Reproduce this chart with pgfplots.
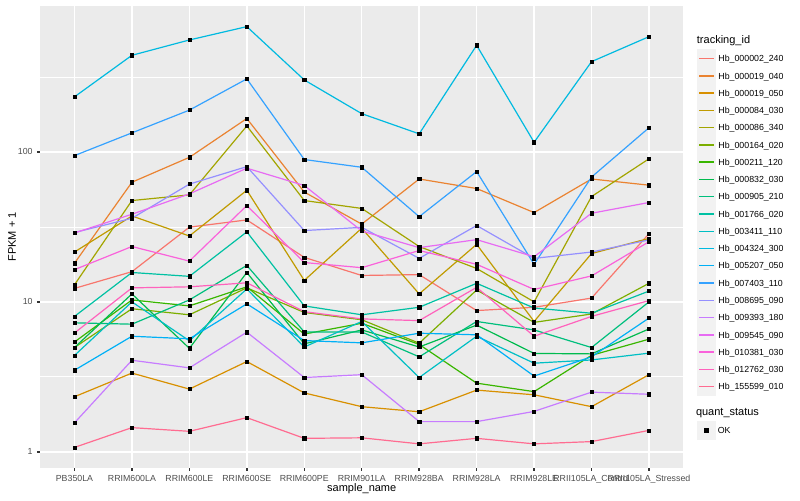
\documentclass[border=0pt]{standalone}
\usepackage{fontspec}
\setmainfont{Liberation Sans}
\usepackage{pgfplots}
\usepackage{pgfplotstable}
\pgfplotsset{compat=1.18}

\definecolor{panelbg}{HTML}{EBEBEB}
\definecolor{legkey}{HTML}{F2F2F2}
\definecolor{gray20}{HTML}{333333}
\definecolor{gray30}{HTML}{4D4D4D}
\definecolor{c1}{HTML}{F8766D}
\definecolor{c2}{HTML}{EA8331}
\definecolor{c3}{HTML}{D89000}
\definecolor{c4}{HTML}{C09B00}
\definecolor{c5}{HTML}{A3A500}
\definecolor{c6}{HTML}{7CAE00}
\definecolor{c7}{HTML}{39B600}
\definecolor{c8}{HTML}{00BB4E}
\definecolor{c9}{HTML}{00BF7D}
\definecolor{c10}{HTML}{00C1A3}
\definecolor{c11}{HTML}{00BFC4}
\definecolor{c12}{HTML}{00BAE0}
\definecolor{c13}{HTML}{00B0F6}
\definecolor{c14}{HTML}{35A2FF}
\definecolor{c15}{HTML}{9590FF}
\definecolor{c16}{HTML}{C77CFF}
\definecolor{c17}{HTML}{E76BF3}
\definecolor{c18}{HTML}{FA62DB}
\definecolor{c19}{HTML}{FF62BC}
\definecolor{c20}{HTML}{FF6C91}

% FPKM + 1, one row per sample, one column per tracking_id
\pgfplotstableread{
x  s1   s2   s3   s4   s5   s6   s7   s8   s9   s10  s11  s12 s13  s14  s15  s16  s17  s18  s19  s20
0  12.3 18.1 2.33 21.5 13   4.96 5.4  4.96 7.25 8.0  4.39 233 3.5  94.5 29   1.56 28.8 16.4 6.2  1.07
1  15.9 62.8 3.35 37.4 47.4 9.0  10.3 11.3 7.1  15.7 10   441 5.9  134  36.1 4.08 38.4 23.4 12.4 1.45
2  31.5 92   2.62 27.5 51.7 8.2  9.4  4.9  10.3 14.8 5.5  558 5.67 190  61   3.63 52.5 18.7 12.6 1.37
3  35.2 167  4.0  55.5 149  12.4 12.6 15.7 17.5 29.3 12.2 685 9.7  307  79.8 6.28 77.9 43.9 13.4 1.69
4  19.8 54   2.47 13.9 47.4 8.5  6.1  5.25 6.3  9.4  5.0  302 5.52 89   29.9 3.13 59.7 18.3 8.6  1.23
5  15.0 33   2.0  31   42   7.6  7.2  6.5  6.3  8.2  7.4  180 5.33 79   31.4 3.27 29.7 16.9 7.7  1.24
6  15.2 66   1.85 11.3 23.4 5.3  5.2  5.0  4.3  9.2  3.13 132 6.18 37   19.5 1.59 23   22   7.5  1.13
7  8.75 57   2.58 24.2 16.7 12.0 2.87 7.0  7.4  13.3 5.9  514 6.03 74   32.3 1.59 26   17.8 12.5 1.23
8  9.2  39.4 2.4  7.4  10   7.3  2.52 4.53 6.5  9.1  3.9  116 3.2  17.8 19.5 1.86 20   12.1 5.9  1.13
9  10.6 66   2.0  21   50.4 8.3  4.4  4.5  4.96 8.4  4.1  400 4.3  68   21.5 2.5  39   14.9 8.0  1.17
10 28.5 60   3.27 26.5 90   13.3 5.64 6.6  10   11.8 4.55 587 7.8  145  25.9 2.42 46   25.2 10.2 1.39
}\data

\begin{document}
\begin{tikzpicture}
\path[use as bounding box] (0pt,0pt) rectangle (600pt,375pt);

\begin{axis}[
  at={(30pt,24pt)}, anchor=south west,
  scale only axis, width=482.6pt, height=346.8pt,
  ymode=log, log basis y=10,
  xmin=-0.6, xmax=10.6, ymin=0.78, ymax=946,
  axis background/.style={fill=panelbg},
  axis line style={draw=none},
  xtick={0,...,10},
  xticklabels={PB350LA, RRIM600LA, RRIM600LE, RRIM600SE, RRIM600PE, RRIM901LA,
    RRIM928BA, RRIM928LA, RRIM928LE, RRII105LA\_Control, RRII105LA\_Stressed},
  ytick={1,10,100}, yticklabels={1,10,100},
  minor ytick={3.1623,31.623,316.23},
  xmajorgrids, ymajorgrids, yminorgrids,
  major grid style={white, line width=1.07pt},
  minor grid style={white, line width=0.53pt},
  tick pos=left, tick align=outside,
  major tick length=2.06pt, minor tick length=0pt,
  tick style={gray20, line width=1.07pt},
  tick label style={font=\fontsize{6.6}{7.9}\selectfont, text=gray30},
  xlabel={sample\_name}, ylabel={FPKM + 1},
  label style={font=\fontsize{8.25}{9.9}\selectfont},
  xlabel style={at={(axis description cs:0.5,-0.045)}, anchor=center},
  ylabel style={at={(axis description cs:-0.0435,0.5)}, anchor=center},
  legend entries={Hb\_000002\_240, Hb\_000019\_040, Hb\_000019\_050, Hb\_000084\_030,
    Hb\_000086\_340, Hb\_000164\_020, Hb\_000211\_120, Hb\_000832\_030, Hb\_000905\_210,
    Hb\_001766\_020, Hb\_003411\_110, Hb\_004324\_300, Hb\_005207\_050, Hb\_007403\_110,
    Hb\_008695\_090, Hb\_009393\_180, Hb\_009545\_090, Hb\_010381\_030, Hb\_012762\_030,
    Hb\_155599\_010},
  legend style={
    at={(axis description cs:1.021,0.9061)}, anchor=north west,
    draw=none, fill=none,
    font=\fontsize{6.6}{7.9}\selectfont,
    inner sep=0pt, row sep=-0.95pt, column sep=2pt,
    nodes={inner sep=0pt, text depth=0pt},
    cells={anchor=west},
  },
  legend image code/.code={
    \fill[legkey] (0pt,-6.5pt) rectangle (13pt,6.5pt);
    \draw[line width=1.07pt] (1.1pt,0pt) -- (11.9pt,0pt);
  },
]
\pgfplotsinvokeforeach{1,...,20}{
  \addplot[color=c#1, line width=0.9pt, no markers] table[x=x, y=s#1] {\data};
}
\pgfplotsinvokeforeach{1,...,20}{
  \addplot[only marks, mark=square*, mark size=1.2pt, black, forget plot]
    table[x=x, y=s#1] {\data};
}
\end{axis}

% second legend: quant_status
\begin{axis}[
  at={(30pt,24pt)}, anchor=south west,
  scale only axis, width=482.6pt, height=346.8pt,
  hide axis, xmin=0, xmax=1, ymin=0, ymax=1,
  legend style={
    at={(axis description cs:1.021,0.1016)}, anchor=north west,
    draw=none, fill=none,
    font=\fontsize{6.6}{7.9}\selectfont,
    inner sep=0pt, row sep=0pt, column sep=2pt,
    nodes={inner sep=0pt, text depth=0pt},
    cells={anchor=west},
  },
  legend image code/.code={
    \fill[legkey] (0pt,-6.5pt) rectangle (13pt,6.5pt);
    \fill[black] (5.3pt,-1.2pt) rectangle (7.7pt,1.2pt);
  },
]
\addlegendimage{black}
\addlegendentry{OK}
\end{axis}

\node[anchor=west, inner sep=0pt, font=\fontsize{8.25}{9.9}\selectfont] at (522.5pt,344.5pt) {tracking\_id};
\node[anchor=west, inner sep=0pt, font=\fontsize{8.25}{9.9}\selectfont] at (521.8pt,65.5pt) {quant\_status};
\end{tikzpicture}
\end{document}
